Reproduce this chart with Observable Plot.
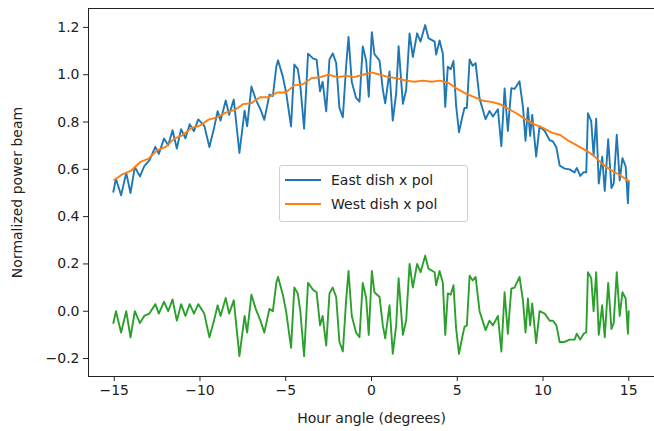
<!DOCTYPE html>
<html><head><meta charset="utf-8">
<script src="https://cdn.jsdelivr.net/npm/d3@7"></script>
<script src="https://cdn.jsdelivr.net/npm/@observablehq/plot@0.6"></script>
<style>
body{margin:0;background:#fff;}
#wrap{position:relative;width:654px;height:431px;font-family:"DejaVu Sans",sans-serif;overflow:hidden;}
.legend{position:absolute;left:279px;top:165px;width:189px;height:57px;border:1px solid #d0d0d0;border-radius:3px;background:rgba(255,255,255,0.85);box-sizing:border-box;font-size:14px;color:#222;}
.row{position:absolute;left:0;height:20px;line-height:20px;}
.sw{position:absolute;left:5px;top:9px;width:36px;height:2px;}
.lab{position:absolute;left:51px;top:0;white-space:nowrap;}
</style>
</head><body>
<div id="wrap"></div>
<script>
// Hour angle positions for East and difference series
const hourAngle = [-15.05,-14.9,-14.6,-14.3,-14.05,-13.8,-13.5,-13.25,-12.95,-12.6,-12.4,-12.1,-11.85,-11.6,-11.35,-11.1,-10.85,-10.6,-10.35,-10.1,
-9.75,-9.45,-9.2,-8.97,-8.8,-8.5,-8.3,-8.03,-7.7,-7.4,-7.25,-7.0,-6.75,-6.45,-6.25,-5.95,-5.75,-5.55,-5.45,-5.17,
-4.98,-4.69,-4.5,-4.3,-4.15,-3.93,-3.7,-3.4,-3.2,-3.0,-2.85,-2.64,-2.45,-2.26,-2.06,-1.87,-1.67,-1.48,-1.34,-1.15,
-0.9,-0.7,-0.51,-0.31,-0.16,0.02,0.17,0.47,0.66,0.8,1.05,1.24,1.44,1.58,1.83,2.02,2.22,2.41,2.66,2.86,
3.13,3.32,3.68,3.77,3.97,4.16,4.3,4.45,4.62,4.78,4.93,5.1,5.29,5.42,5.56,5.72,5.9,6.07,6.3,6.5,
6.65,6.88,7.08,7.37,7.57,7.76,7.95,8.15,8.34,8.63,8.83,8.98,9.12,9.25,9.37,9.6,9.8,10.1,10.39,10.58,
10.78,10.97,11.26,11.55,11.84,11.97,12.17,12.37,12.52,12.62,12.81,12.95,13.1,13.25,13.45,13.6,13.8,13.99,14.12,14.3,
14.47,14.63,14.82,14.95,15.0];
// East dish x pol (normalized power beam)
const eastValues = [0.505,0.56,0.49,0.585,0.5,0.61,0.57,0.613,0.638,0.695,0.665,0.73,0.702,0.765,0.688,0.77,0.731,0.791,0.761,0.811,
0.784,0.694,0.768,0.846,0.806,0.891,0.831,0.895,0.669,0.848,0.782,0.95,0.896,0.849,0.809,0.916,0.91,1.034,1.061,0.992,
0.926,0.781,1.043,1.025,0.955,0.772,1.089,1.068,1.064,0.93,0.97,0.845,1.065,1.09,1.05,0.86,0.82,1.036,1.16,0.97,
0.902,0.886,1.12,1.059,0.907,1.18,1.087,1.06,0.937,0.879,1.014,0.806,0.923,1.121,0.877,0.935,1.175,1.075,1.175,1.14,
1.21,1.155,1.14,1.085,1.145,1.089,0.864,1.034,1.023,1.058,0.872,0.757,0.82,0.859,0.86,1.065,1.038,1.049,0.899,0.85,
0.812,0.847,0.823,0.854,0.698,0.942,0.762,0.943,0.94,0.972,0.864,0.721,0.86,0.741,0.83,0.654,0.782,0.762,0.723,0.718,
0.692,0.616,0.603,0.60,0.587,0.606,0.572,0.588,0.587,0.837,0.804,0.657,0.814,0.54,0.653,0.509,0.727,0.521,0.54,0.746,
0.553,0.647,0.612,0.457,0.55];
// Difference (East - West)
const diffValues = [-0.05,0.0,-0.09,0.0,-0.11,0.0,-0.05,-0.02,-0.01,0.03,-0.01,0.04,0.0,0.05,-0.04,0.03,-0.02,0.03,-0.01,0.03,
-0.01,-0.11,-0.045,0.025,-0.02,0.056,-0.01,0.046,-0.19,-0.02,-0.09,0.07,0.01,-0.045,-0.09,0.01,0.0,0.12,0.145,0.07,
0.0,-0.155,0.10,0.075,0.0,-0.19,0.12,0.09,0.08,-0.06,-0.02,-0.145,0.075,0.10,0.06,-0.13,-0.17,0.046,0.17,-0.02,
-0.09,-0.11,0.12,0.055,-0.10,0.17,0.08,0.06,-0.06,-0.115,0.025,-0.18,-0.06,0.14,-0.10,-0.04,0.20,0.10,0.20,0.165,
0.235,0.18,0.165,0.11,0.17,0.12,-0.10,0.075,0.07,0.11,-0.07,-0.18,-0.11,-0.066,-0.06,0.15,0.13,0.145,0.0,-0.045,
-0.08,-0.04,-0.06,-0.02,-0.17,0.08,-0.095,0.095,0.10,0.145,0.046,-0.09,0.054,-0.06,0.033,-0.135,0.0,-0.01,-0.04,-0.04,
-0.06,-0.13,-0.13,-0.12,-0.12,-0.095,-0.12,-0.095,-0.09,0.165,0.14,0.0,0.165,-0.10,0.025,-0.11,0.12,-0.075,-0.05,0.165,
-0.02,0.08,0.054,-0.095,0.0];
// West dish x pol
const westHourAngle = [-15,-14.5,-14,-13.5,-13,-12.5,-12,-11.5,-11,-10.5,-10,-9.5,-9,-8.5,-8,-7.5,-7,-6.5,-6,-5.5,
-5,-4.5,-4,-3.5,-3,-2.5,-2,-1.5,-1,-0.5,0,0.5,1,1.5,2,2.5,3,3.5,4,4.5,
5,5.5,6,6.5,7,7.5,8,8.5,9,9.5,10,10.5,11,11.5,12,12.5,13,13.5,14,14.5,15];
const westValues = [0.555,0.58,0.595,0.63,0.645,0.68,0.695,0.73,0.745,0.775,0.785,0.81,0.82,0.84,0.85,0.875,0.88,0.905,0.905,0.925,
0.925,0.955,0.96,0.985,0.99,1.0,0.99,0.995,0.99,1.0,1.01,1.0,0.99,0.985,0.975,0.97,0.975,0.97,0.975,0.965,
0.94,0.92,0.905,0.89,0.885,0.875,0.855,0.835,0.81,0.79,0.775,0.755,0.745,0.72,0.70,0.68,0.655,0.62,0.595,0.575,0.55];
const xTicks = [-15,-10,-5,0,5,10,15];
const yTicks = [-0.2,0.0,0.2,0.4,0.6,0.8,1.0,1.2];
const seriesNames = ["East dish x pol","West dish x pol"];
const colors = ["#1f77b4","#ff7f0e","#2ca02c"];

const east = hourAngle.map((x,i)=>({x, y:eastValues[i]}));
const diff = hourAngle.map((x,i)=>({x, y:diffValues[i]}));
const west = westHourAngle.map((x,i)=>({x, y:westValues[i]}));

const chart = Plot.plot({
  width:654, height:431,
  marginLeft:88, marginRight:0, marginTop:8, marginBottom:55,
  style:{fontFamily:"DejaVu Sans", fontSize:"14px", color:"#222", background:"white"},
  x:{domain:[-16.5,16.5]},
  y:{domain:[-0.276,1.28]},
  marks:[
    Plot.line(east,{x:"x",y:"y",stroke:colors[0],strokeWidth:1.9}),
    Plot.line(west,{x:"x",y:"y",stroke:colors[1],strokeWidth:1.9}),
    Plot.line(diff,{x:"x",y:"y",stroke:colors[2],strokeWidth:1.9}),
    Plot.frame({stroke:"#222",strokeWidth:1}),
    Plot.axisX({ticks:xTicks,tickSize:5,tickPadding:4,tickFormat:d3.format("d"),
      label:"Hour angle (degrees)",labelAnchor:"center",labelArrow:"none",labelOffset:46}),
    Plot.axisY({ticks:yTicks,tickSize:5,tickPadding:4,tickFormat:d3.format(".1f"),
      label:"Normalized power beam",labelAnchor:"center",labelArrow:"none",labelOffset:76})
  ]
});
const wrap = document.getElementById("wrap");
wrap.appendChild(chart);
const lg = document.createElement("div");
lg.className = "legend";
seriesNames.forEach((n,i)=>{
  const r = document.createElement("div");
  r.className="row"; r.style.top = (i===0?4:28)+"px";
  r.innerHTML = `<div class="sw" style="background:${colors[i]}"></div><div class="lab">${n}</div>`;
  lg.appendChild(r);
});
wrap.appendChild(lg);
</script>
</body></html>
